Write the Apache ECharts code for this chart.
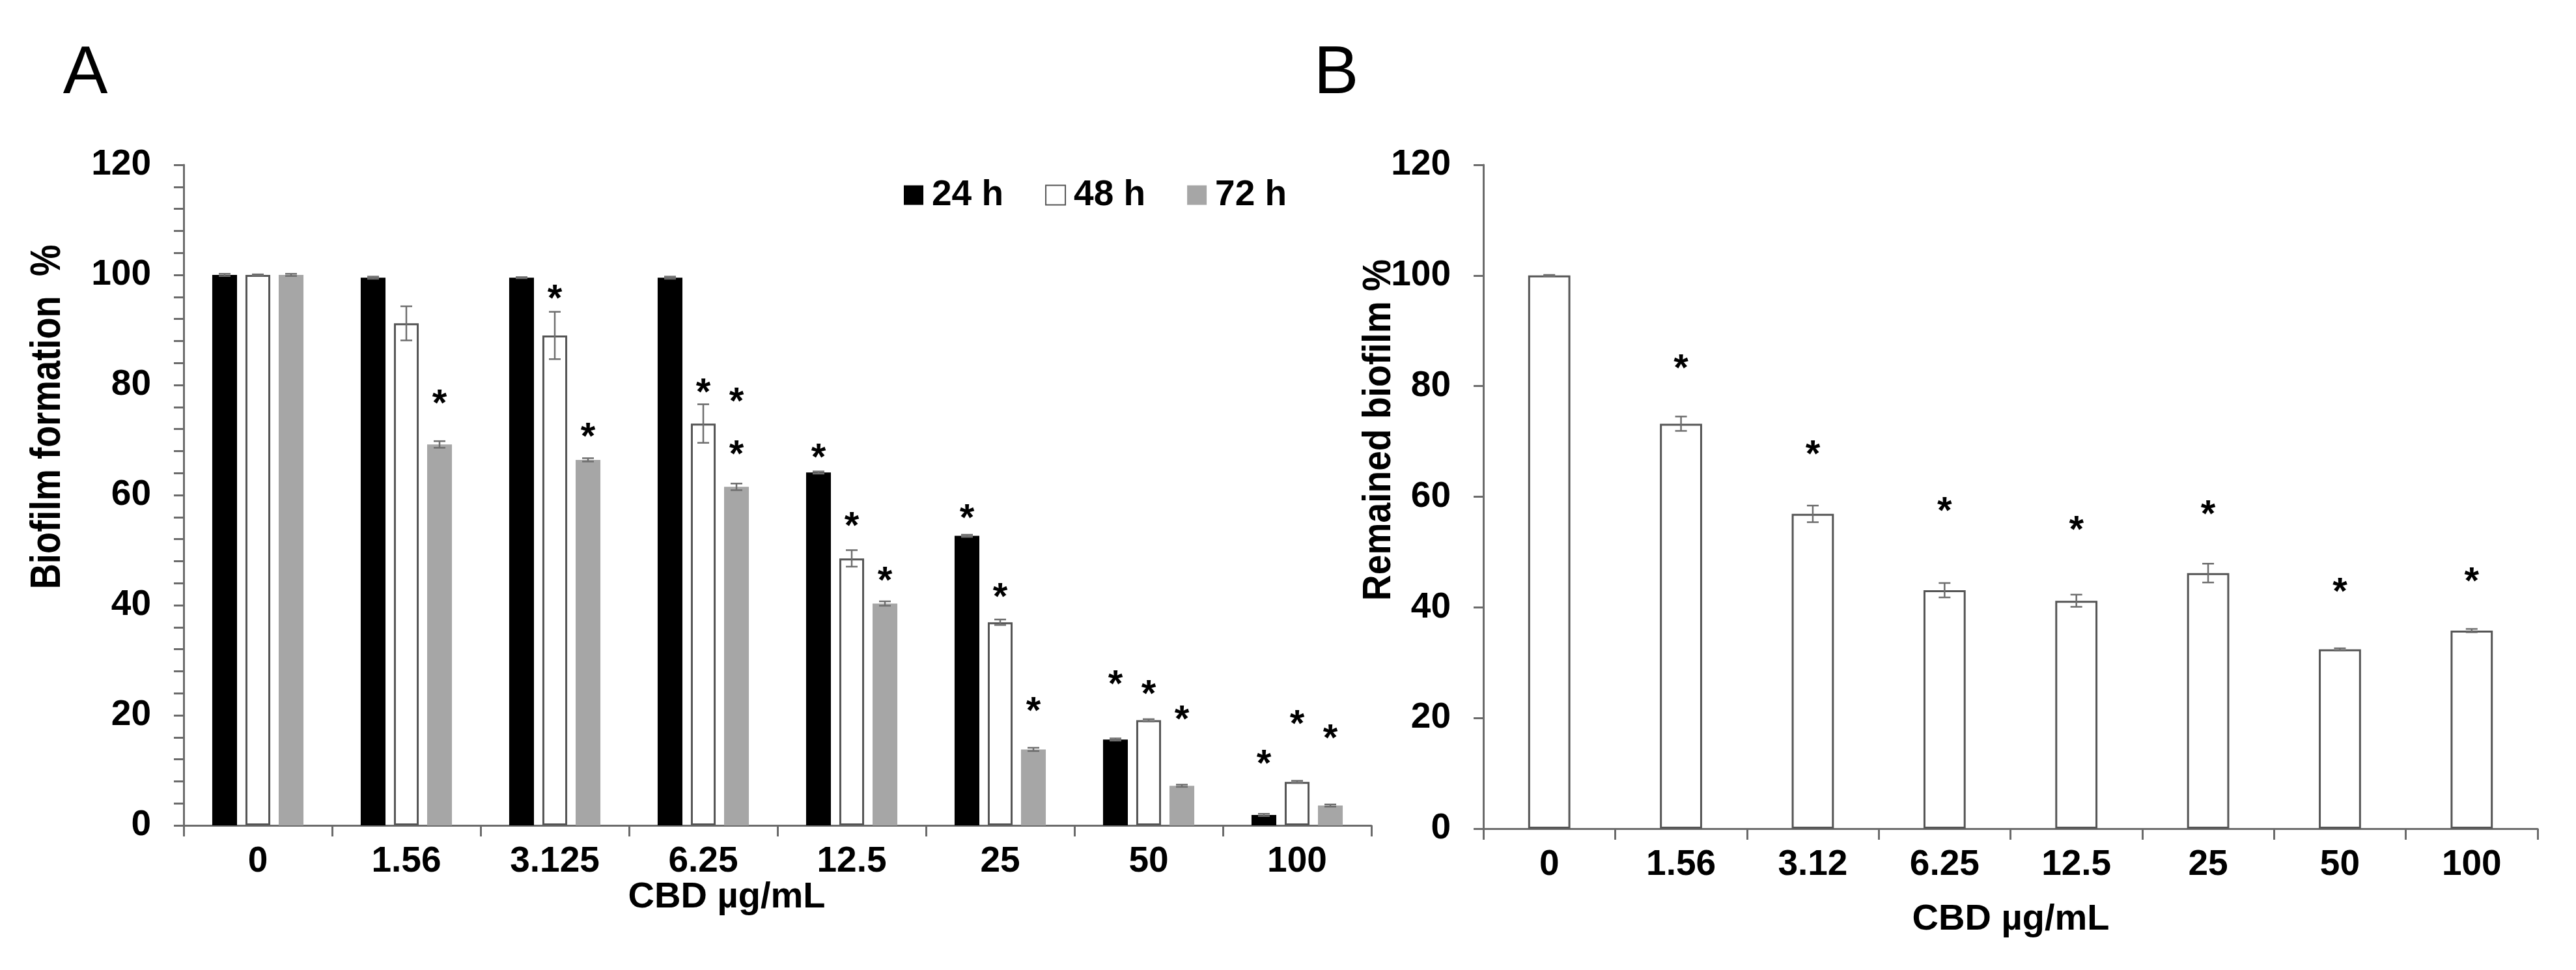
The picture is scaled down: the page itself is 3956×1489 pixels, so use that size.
<!DOCTYPE html>
<html>
<head>
<meta charset="utf-8">
<script src="https://cdn.jsdelivr.net/npm/echarts@6/dist/echarts.min.js"></script>
<style>
  html, body { margin: 0; padding: 0; background: #fff; }
  #chart { width: 3956px; height: 1489px; }
</style>
</head>
<body>
<div id="chart"></div>
<script>
// panel A: biofilm formation, three exposure times
var catsA = ["0", "1.56", "3.125", "6.25", "12.5", "25", "50", "100"];
var h24 = [100, 99.5, 99.5, 99.5, 64.1, 52.6, 15.6, 1.9];
var h48 = [100, 91.2, 89.0, 73.0, 48.5, 36.9, 19.1, 7.9];
var h72 = [100, 69.2, 66.4, 61.5, 40.3, 13.8, 7.2, 3.6];
var err24 = [0.2, 0.2, 0.1, 0.2, 0.2, 0.2, 0.2, 0.2];
var err48 = [0.1, 3.1, 4.3, 3.5, 1.5, 0.5, 0.2, 0.2];
var err72 = [0.2, 0.6, 0.3, 0.6, 0.4, 0.3, 0.2, 0.2];
// asterisks: [category index, height]
var stars24 = [[4, 68.2], [5, 57.2], [6, 27.0], [7, 12.5]];
var stars48 = [[2, 97.0], [3, 80.0], [4, 55.7], [5, 42.8], [6, 25.2], [7, 19.8]];
var stars72 = [[1, 78.0], [2, 72.0], [3, 78.3], [3, 68.7], [4, 45.8], [5, 22.1], [6, 20.6], [7, 17.2]];

// panel B: remained biofilm
var catsB = ["0", "1.56", "3.12", "6.25", "12.5", "25", "50", "100"];
var remained = [100, 73.2, 56.9, 43.1, 41.2, 46.2, 32.4, 35.8];
var errB = [0.1, 1.3, 1.5, 1.3, 1.1, 1.7, 0.2, 0.3];
var starsB = [[1, 84.5], [2, 69.0], [3, 58.8], [4, 55.4], [5, 58.2], [6, 44.2], [7, 46.1]];

var yTicks = [0, 20, 40, 60, 80, 100, 120];

var fam = "'Liberation Sans', Arial, sans-serif";
var axisGray = "#6b6b6b";

var barFracA = 0.167, gapFracA = 0.34, barFracB = 0.32;

function zip(vals, errs) {
    return vals.map(function (v, i) { return [i, v, errs[i]]; });
}

function errRender(k, n, frac, gapFrac) {
    return function (params, api) {
        var cat = api.value(0), v = api.value(1), e = api.value(2);
        var band = api.size([1, 0])[0];
        var bw = band * frac, gap = bw * gapFrac;
        var x = api.coord([cat, v])[0] + (k - (n - 1) / 2) * (bw + gap);
        var y1 = api.coord([cat, v + e])[1], y2 = api.coord([cat, v - e])[1];
        var cw = 9;
        var st = {stroke: "#6e6e6e", lineWidth: 2.5};
        return {
            type: "group", children: [
                {type: "line", shape: {x1: x, y1: y1, x2: x, y2: y2}, style: st},
                {type: "line", shape: {x1: x - cw, y1: y1, x2: x + cw, y2: y1}, style: st},
                {type: "line", shape: {x1: x - cw, y1: y2, x2: x + cw, y2: y2}, style: st}
            ]
        };
    };
}

function starRender(k, n, frac, gapFrac) {
    return function (params, api) {
        var cat = api.value(0), v = api.value(1);
        var band = api.size([1, 0])[0];
        var bw = band * frac, gap = bw * gapFrac;
        var p = api.coord([cat, v]);
        return {
            type: "text",
            x: p[0] + (k - (n - 1) / 2) * (bw + gap),
            y: p[1] + 14,
            style: {text: "*", fill: "#000", fontSize: 58, fontWeight: "bold", fontFamily: fam,
                align: "center", verticalAlign: "middle"}
        };
    };
}

function xAx(grid, cats) {
    return {
        type: "category", gridIndex: grid, data: cats,
        axisLine: {lineStyle: {color: axisGray, width: 3}},
        axisTick: {show: true, length: 17, lineStyle: {color: axisGray, width: 3}},
        axisLabel: {fontSize: 55, fontWeight: "bold", color: "#000", fontFamily: fam, margin: 28},
        splitLine: {show: false}
    };
}

function yAx(grid, minor) {
    return {
        type: "value", gridIndex: grid, min: yTicks[0], max: yTicks[yTicks.length - 1], interval: yTicks[1] - yTicks[0],
        axisLine: {show: true, lineStyle: {color: axisGray, width: 3}},
        axisTick: {show: true, length: 15, lineStyle: {color: axisGray, width: 3}},
        minorTick: {show: minor, splitNumber: 5, length: 15, lineStyle: {color: axisGray, width: 3}},
        axisLabel: {fontSize: 55, fontWeight: "bold", color: "#000", fontFamily: fam, margin: 50},
        splitLine: {show: false}
    };
}

function txt(s, x, y, size, weight, rot, sx) {
    return {
        type: "text", x: x, y: y, rotation: rot || 0, scaleX: sx || 1,
        style: {text: s, fill: "#000", fontSize: size, fontWeight: weight, fontFamily: fam,
            align: "center", verticalAlign: "middle"}
    };
}

var option = {
    backgroundColor: "#fff",
    animation: false,
    grid: [
        {left: 282, right: 1850, top: 253, bottom: 222},
        {left: 2278, right: 59, top: 253, bottom: 217}
    ],
    xAxis: [xAx(0, catsA), xAx(1, catsB)],
    yAxis: [yAx(0, true), yAx(1, false)],
    legend: {
        data: ["24 h", "48 h", "72 h"], left: 1388, top: 272, padding: 0,
        itemWidth: 30, itemHeight: 30, itemGap: 64, icon: "rect", selectedMode: false,
        textStyle: {fontSize: 55, fontWeight: "bold", color: "#000", fontFamily: fam, padding: [0, 0, 0, 8]}
    },
    graphic: [
        txt("A", 131, 115, 103, "normal"),
        txt("B", 2052, 115, 103, "normal"),
        txt("Biofilm formation  %", 74, 640, 64, "bold", Math.PI / 2, 0.85),
        txt("Remained biofilm %", 2118, 660, 62, "bold", Math.PI / 2, 0.89),
        txt("CBD \u00b5g/mL", 1116, 1378, 56, "bold"),
        txt("CBD \u00b5g/mL", 3088, 1412, 56, "bold")
    ],
    series: [
        {name: "24 h", type: "bar", xAxisIndex: 0, yAxisIndex: 0, data: h24,
            barWidth: (barFracA * 100) + "%", barGap: (gapFracA * 100) + "%",
            itemStyle: {color: "#000"}},
        {name: "48 h", type: "bar", xAxisIndex: 0, yAxisIndex: 0, data: h48,
            barWidth: (barFracA * 100) + "%", barGap: (gapFracA * 100) + "%",
            itemStyle: {color: "#fff", borderColor: "#555", borderWidth: 3}},
        {name: "72 h", type: "bar", xAxisIndex: 0, yAxisIndex: 0, data: h72,
            barWidth: (barFracA * 100) + "%", barGap: (gapFracA * 100) + "%",
            itemStyle: {color: "#a6a6a6"}},
        {name: "e24", type: "custom", xAxisIndex: 0, yAxisIndex: 0, z: 5, data: zip(h24, err24),
            encode: {x: 0, y: 1}, renderItem: errRender(0, 3, barFracA, gapFracA)},
        {name: "e48", type: "custom", xAxisIndex: 0, yAxisIndex: 0, z: 5, data: zip(h48, err48),
            encode: {x: 0, y: 1}, renderItem: errRender(1, 3, barFracA, gapFracA)},
        {name: "e72", type: "custom", xAxisIndex: 0, yAxisIndex: 0, z: 5, data: zip(h72, err72),
            encode: {x: 0, y: 1}, renderItem: errRender(2, 3, barFracA, gapFracA)},
        {name: "s24", type: "custom", xAxisIndex: 0, yAxisIndex: 0, z: 6, data: stars24,
            encode: {x: 0, y: 1}, renderItem: starRender(0, 3, barFracA, gapFracA)},
        {name: "s48", type: "custom", xAxisIndex: 0, yAxisIndex: 0, z: 6, data: stars48,
            encode: {x: 0, y: 1}, renderItem: starRender(1, 3, barFracA, gapFracA)},
        {name: "s72", type: "custom", xAxisIndex: 0, yAxisIndex: 0, z: 6, data: stars72,
            encode: {x: 0, y: 1}, renderItem: starRender(2, 3, barFracA, gapFracA)},
        {name: "Remained", type: "bar", xAxisIndex: 1, yAxisIndex: 1, data: remained,
            barWidth: (barFracB * 100) + "%",
            itemStyle: {color: "#fff", borderColor: "#555", borderWidth: 3}},
        {name: "eB", type: "custom", xAxisIndex: 1, yAxisIndex: 1, z: 5, data: zip(remained, errB),
            encode: {x: 0, y: 1}, renderItem: errRender(0, 1, barFracB, 0)},
        {name: "sB", type: "custom", xAxisIndex: 1, yAxisIndex: 1, z: 6, data: starsB,
            encode: {x: 0, y: 1}, renderItem: starRender(0, 1, barFracB, 0)}
    ]
};

echarts.init(document.getElementById("chart")).setOption(option);
</script>
</body>
</html>
